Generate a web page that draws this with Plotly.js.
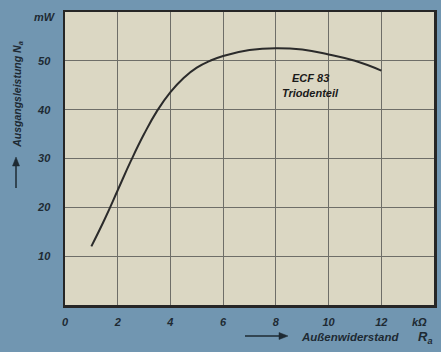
<!DOCTYPE html>
<html>
<head>
<meta charset="utf-8">
<script src="https://cdn.plot.ly/plotly-3.0.1.min.js"></script>
<style>html,body{margin:0;padding:0;background:#7196b1;}#chart{width:441px;height:352px;}</style>
</head>
<body>
<div id="chart"></div>
<script>
// Data
const resistanceKOhm = [1, 1.5, 2, 2.5, 3, 3.5, 4, 4.5, 5, 5.5, 6, 7, 8, 9, 10, 11, 12];
const outputPowerMW = [12, 17.5, 23.5, 29.5, 35, 39.8, 43.6, 46.5, 48.6, 50, 51, 52.2, 52.6, 52.3, 51.3, 50, 48];
const xTicks = [0, 2, 4, 6, 8, 10, 12];
const xTickLabels = ['0', '2', '4', '6', '8', '10', '12'];
const yTicks = [10, 20, 30, 40, 50];
const yTickLabels = ['10', '20', '30', '40', '50'];
const curveLabel = ['ECF 83', 'Triodenteil'];

const ink = '#1e2a33';
const tickFont = {family: 'Liberation Sans, Arial', size: 11, color: ink, style: 'italic', weight: 'bold'};

const trace = {
  x: resistanceKOhm, y: outputPowerMW, type: 'scatter', mode: 'lines',
  line: {color: '#2b2b2b', width: 2, shape: 'spline', smoothing: 1.3},
  hoverinfo: 'skip'
};

// paper-coordinate helpers for the decorative arrows
const W = 369, H = 293;
const px = p => (p - 65) / W, py = p => (305 - p) / H;

const layout = {
  width: 441, height: 352,
  margin: {l: 65, r: 7, t: 12, b: 47},
  paper_bgcolor: '#7196b1',
  plot_bgcolor: '#dbd7c3',
  showlegend: false,
  xaxis: {
    range: [0, 14], tickvals: xTicks, ticktext: xTickLabels,
    showgrid: true, gridcolor: '#6e6e68', gridwidth: 1,
    zeroline: false, showline: true, linecolor: '#262626', linewidth: 2.5, mirror: true,
    ticks: '', ticklabelstandoff: 5, tickfont: tickFont
  },
  yaxis: {
    range: [0, 60], tickvals: yTicks, ticktext: yTickLabels, dtick: 10,
    showgrid: true, gridcolor: '#6e6e68', gridwidth: 1,
    zeroline: false, showline: true, linecolor: '#262626', linewidth: 2.5, mirror: true,
    ticks: '', ticklabelstandoff: 10, tickfont: tickFont
  },
  annotations: [
    {x: 9.3, y: 46.5, xref: 'x', yref: 'y', text: '<b><i>' + curveLabel[0] + '</i></b>', showarrow: false,
     font: {family: 'Liberation Sans, Arial', size: 11, color: '#1a1a1a'}},
    {x: 9.3, y: 43.4, xref: 'x', yref: 'y', text: '<b><i>' + curveLabel[1] + '</i></b>', showarrow: false,
     font: {family: 'Liberation Sans, Arial', size: 11, color: '#1a1a1a'}},
    {xref: 'paper', yref: 'paper', x: 0.962, y: -0.058, text: '<b><i>kΩ</i></b>', showarrow: false,
     xanchor: 'center', yanchor: 'middle', font: {family: 'Liberation Sans, Arial', size: 11, color: ink}},
    {xref: 'paper', yref: 'paper', x: -0.055, y: 0.983, text: '<b><i>mW</i></b>', showarrow: false,
     xanchor: 'center', yanchor: 'middle', font: {family: 'Liberation Sans, Arial', size: 11, color: ink}},
    {xref: 'paper', yref: 'paper', x: 0.91, y: -0.11, xanchor: 'right', yanchor: 'middle',
     text: '<b><i>Außenwiderstand</i></b>', showarrow: false,
     font: {family: 'Liberation Sans, Arial', size: 11.5, color: ink}},
    {xref: 'paper', yref: 'paper', x: 0.975, y: -0.11, xanchor: 'center', yanchor: 'middle',
     text: '<b><i>R<sub>a</sub></i></b>', showarrow: false,
     font: {family: 'Liberation Sans, Arial', size: 13, color: ink}},
    {xref: 'paper', yref: 'paper', x: -0.128, y: 0.72, textangle: -90, xanchor: 'center', yanchor: 'middle',
     text: '<b><i>Ausgangsleistung N<sub>a</sub></i></b>', showarrow: false,
     font: {family: 'Liberation Sans, Arial', size: 10.5, color: ink}}
  ],
  shapes: [
    {type: 'line', xref: 'paper', yref: 'paper', x0: px(245), x1: px(280), y0: py(336), y1: py(336),
     line: {color: ink, width: 1.5}},
    {type: 'path', xref: 'paper', yref: 'paper',
     path: `M ${px(288)} ${py(336)} L ${px(279)} ${py(332.5)} L ${px(279)} ${py(339.5)} Z`,
     fillcolor: ink, line: {color: ink, width: 0.5}},
    {type: 'line', xref: 'paper', yref: 'paper', x0: px(16), x1: px(16), y0: py(188), y1: py(165),
     line: {color: ink, width: 1.5}},
    {type: 'path', xref: 'paper', yref: 'paper',
     path: `M ${px(16)} ${py(157)} L ${px(12.5)} ${py(166)} L ${px(19.5)} ${py(166)} Z`,
     fillcolor: ink, line: {color: ink, width: 0.5}}
  ]
};

Plotly.newPlot('chart', [trace], layout, {staticPlot: true, displayModeBar: false});
</script>
</body>
</html>
